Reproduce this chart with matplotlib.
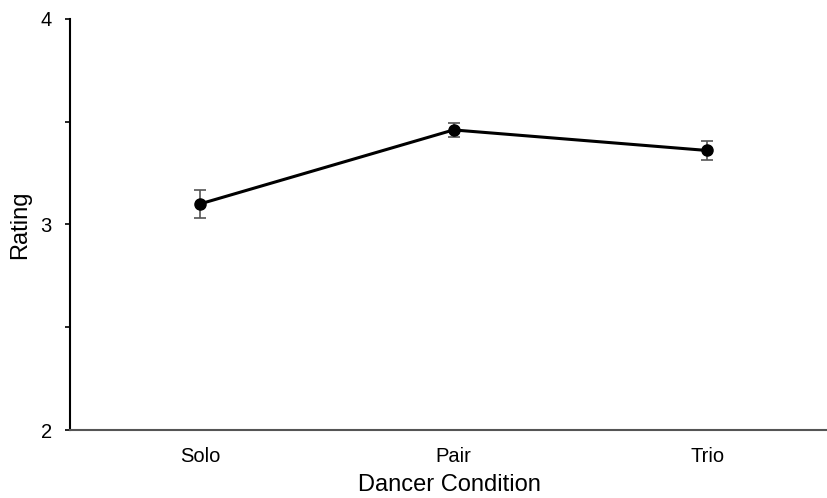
import numpy as np
import matplotlib.pyplot as plt

plt.rcParams['font.family'] = ['Liberation Sans', 'DejaVu Sans']

# data
conditions = ["Solo", "Pair", "Trio"]
ratings = [3.10, 3.46, 3.36]
errors = [0.068, 0.036, 0.047]

fig = plt.figure(figsize=(8.28, 4.98), dpi=100)
ax = fig.add_axes([0.0845, 0.1365, 0.9155, 0.8255])

x = np.arange(len(conditions))
ax.errorbar(x, ratings, yerr=errors, fmt="none", ecolor="#555555",
            elinewidth=1.2, capsize=4, capthick=1.2, zorder=2)
ax.plot(x, ratings, color="black", linewidth=2.2, marker="o",
        markersize=8, zorder=3)

ax.set_xlim(-0.513, 2.477)
ax.set_ylim(2, 4)
ax.set_yticks([2, 2.5, 3, 3.5, 4])
ax.set_yticklabels(["2", "", "3", "", "4"], fontsize=14.5)
ax.set_xticks(x)
ax.set_xticklabels(conditions, fontsize=14.5)
ax.tick_params(axis="x", length=0, pad=12)
ax.tick_params(axis="y", length=3.6, width=1.2, pad=9.4)

ax.spines["top"].set_visible(False)
ax.spines["right"].set_visible(False)
ax.spines["left"].set_linewidth(1.5)
ax.spines["bottom"].set_linewidth(1.5)
ax.spines["bottom"].set_color("#555555")

ax.set_ylabel("Rating", fontsize=17, labelpad=7)
ax.set_xlabel("Dancer Condition", fontsize=17, labelpad=6)

fig.savefig("out.png", dpi=100)
